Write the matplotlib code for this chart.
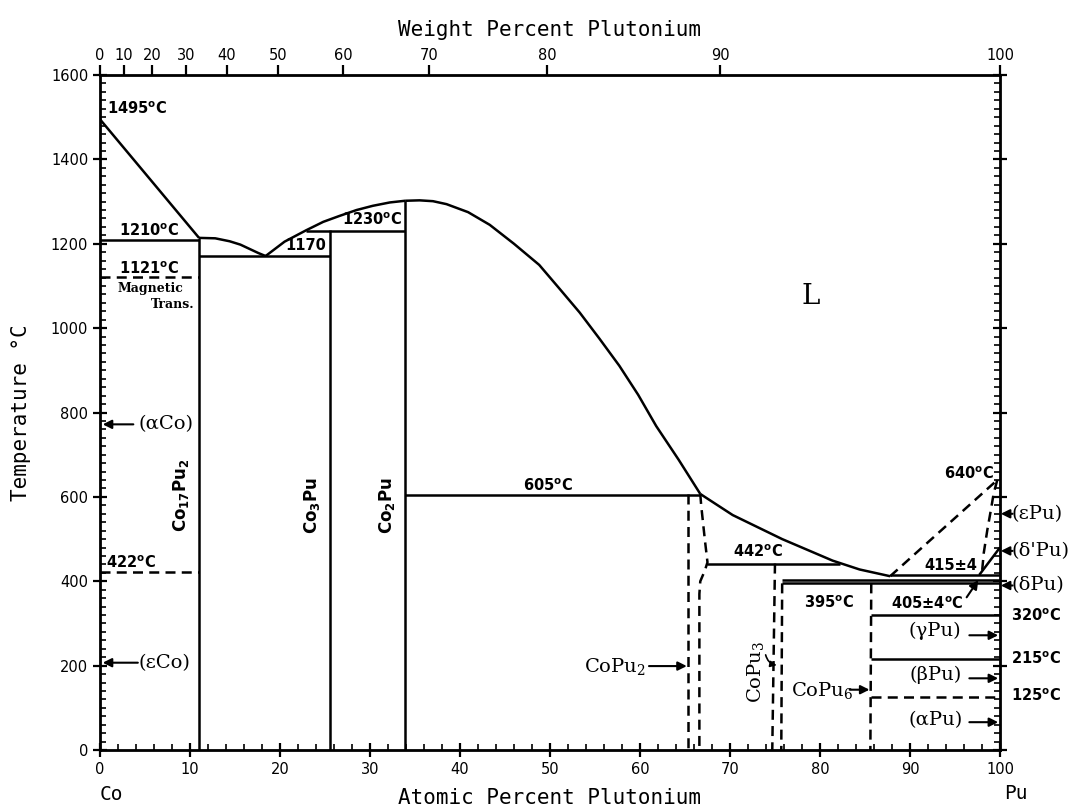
import numpy as np
import matplotlib.pyplot as plt

# Atomic masses used for the weight-percent scale
M_CO, M_PU = 58.93, 239.05

# Liquidus branches (at.% Pu, temperature in C)
liq_co_x = [0.0, 11.0]
liq_co_t = [1495, 1214]
liq_a_x = [11.0, 12.8, 14.4, 15.6, 16.6, 17.6, 18.4]
liq_a_t = [1214, 1213, 1206, 1198, 1188, 1178, 1171]
liq_b_x = [18.4, 20.5, 22.9, 24.8, 26.6, 28.5, 30.3, 32.2, 33.9]
liq_b_t = [1171, 1205, 1232, 1252, 1266, 1280, 1290, 1298, 1302]
liq_c_x = [33.9, 35.5, 37.0, 38.5, 40.9, 43.3, 46.0, 48.8, 51.0, 53.3, 55.5, 57.7, 59.8, 61.8, 64.3, 66.7]
liq_c_t = [1302, 1303, 1301, 1294, 1275, 1245, 1200, 1150, 1095, 1037, 975, 911, 842, 768, 688, 607]
liq_d_x = [66.7, 70.3, 75.8, 81.4, 84.4, 87.8]
liq_d_t = [607, 557, 500, 449, 428, 412]
liq_pu_x = [87.8, 99.7]
liq_pu_t = [412, 640]

# Pu-rich solid boundaries
eps_x = [99.7, 99.3, 99.0, 98.6, 98.2, 98.0]
eps_t = [640, 608, 570, 522, 467, 420]
dlt_x = [97.7, 100.0]
dlt_t = [415, 480]

# Compound lines (at.% Pu)
co17pu2_x, co17pu2_top = 11.0, 1214
co3pu_x, co3pu_top = 25.6, 1232
co2pu_x, co2pu_top = 33.9, 1302
copu2_left_x = [65.3, 65.3]
copu2_left_t = [607, 0]
copu2_right_x = [66.7, 66.8, 67.2, 67.5, 67.2, 66.7, 66.6, 66.6]
copu2_right_t = [607, 580, 500, 445, 425, 400, 370, 0]
copu3_left_x = [75.0, 74.7]
copu3_left_t = [442, 0]
copu3_right_x = [75.8, 75.7]
copu3_right_t = [395, 0]
copu6_x = [85.7, 85.6]
copu6_t = [395, 0]

# Invariant / transformation isotherms: (x_start, x_end, temperature, dashed)
isotherms = [
    (0.0, 11.0, 1210, False),
    (0.0, 11.0, 1121, True),
    (0.0, 11.0, 422, True),
    (11.0, 25.6, 1170, False),
    (22.9, 33.9, 1230, False),
    (33.9, 66.7, 605, False),
    (67.5, 82.2, 442, False),
    (75.8, 100.0, 395, False),
    (75.8, 100.0, 403, False),
    (87.8, 100.0, 415, False),
    (85.7, 100.0, 320, False),
    (85.7, 100.0, 215, False),
    (85.7, 100.0, 125, True),
]

wt_ticks = list(range(0, 101, 10))


def wt_to_at(w):
    w = np.asarray(w, dtype=float)
    return 100 * (w / M_PU) / (w / M_PU + (100 - w) / M_CO)


fig = plt.figure(figsize=(10.78, 8.07), dpi=100)
ax = fig.add_axes([0.0928, 0.0706, 0.8348, 0.8364])
ax.set_xlim(0, 100)
ax.set_ylim(0, 1600)

LW = 1.8
DASH = (0, (4, 2.5))
solid = dict(color='black', lw=LW, solid_capstyle='butt')
dashed = dict(color='black', lw=LW, linestyle=DASH)

for xs, ts in [(liq_co_x, liq_co_t), (liq_a_x, liq_a_t), (liq_b_x, liq_b_t),
               (liq_c_x, liq_c_t), (liq_d_x, liq_d_t), (dlt_x, dlt_t)]:
    ax.plot(xs, ts, **solid)
for xs, ts in [(liq_pu_x, liq_pu_t), (eps_x, eps_t),
               (copu2_left_x, copu2_left_t), (copu2_right_x, copu2_right_t),
               (copu3_left_x, copu3_left_t), (copu3_right_x, copu3_right_t),
               (copu6_x, copu6_t)]:
    ax.plot(xs, ts, **dashed)

for x, top in [(co17pu2_x, co17pu2_top), (co3pu_x, co3pu_top), (co2pu_x, co2pu_top)]:
    ax.plot([x, x], [0, top], **solid)

for x0, x1, t, is_dashed in isotherms:
    ax.plot([x0, x1], [t, t], **(dashed if is_dashed else solid))

# Axes, ticks
for sp in ax.spines.values():
    sp.set_linewidth(2)
ax.set_xticks(range(0, 101, 10))
ax.set_xticks(range(0, 101, 2), minor=True)
ax.set_yticks(range(0, 1601, 200))
ax.set_yticks(range(0, 1601, 20), minor=True)
ax.tick_params(which='major', direction='inout', length=10, width=1.6,
               top=True, right=True, labelsize=10.5)
ax.tick_params(which='minor', direction='in', length=4, width=1.2,
               top=True, right=True)
ax.set_xlabel('Atomic Percent Plutonium', family='DejaVu Sans Mono',
              fontsize=15, labelpad=8)
ax.set_ylabel('Temperature °C', family='DejaVu Sans Mono', fontsize=15,
              labelpad=14)

ax2 = ax.twiny()
ax2.set_xlim(0, 100)
ax2.set_xticks(wt_to_at(wt_ticks))
ax2.set_xticklabels([str(w) for w in wt_ticks])
ax2.tick_params(direction='out', length=7, width=1.6, labelsize=10.5, pad=2)
ax2.set_xlabel('Weight Percent Plutonium', family='DejaVu Sans Mono',
               fontsize=15, labelpad=8)

ax.text(0.0, -0.066, 'Co', transform=ax.transAxes, family='DejaVu Sans Mono',
        fontsize=14, ha='left', va='center')
ax.text(1.005, -0.064, 'Pu', transform=ax.transAxes, family='DejaVu Sans Mono',
        fontsize=14, ha='left', va='center')

# Temperature labels
deg = r'$^\mathregular{o}$C'
tkw = dict(fontsize=10.5, fontweight='bold', family='DejaVu Sans')
ax.text(0.8, 1521, '1495' + deg, ha='left', va='center', **tkw)
ax.text(5.5, 1232, '1210' + deg, ha='center', va='center', **tkw)
ax.text(5.5, 1142, '1121' + deg, ha='center', va='center', **tkw)
ax.text(5.6, 1094, 'Magnetic', ha='center', va='center', fontsize=9,
        fontweight='bold', family='DejaVu Serif')
ax.text(10.5, 1055, 'Trans.', ha='right', va='center', fontsize=9,
        fontweight='bold', family='DejaVu Serif')
ax.text(22.9, 1195, '1170', ha='center', va='center', **tkw)
ax.text(30.2, 1258, '1230' + deg, ha='center', va='center', **tkw)
ax.text(0.7, 445, '422' + deg, ha='left', va='center', **tkw)
ax.text(49.8, 627, '605' + deg, ha='center', va='center', **tkw)
ax.text(73.1, 470, '442' + deg, ha='center', va='center', **tkw)
ax.text(81.0, 350, '395' + deg, ha='center', va='center', **tkw)
ax.text(91.9, 348, '405±4' + deg, ha='center', va='center', **tkw)
ax.text(94.5, 438, '415±4', ha='center', va='center', **tkw)
ax.text(99.3, 655, '640' + deg, ha='right', va='center', **tkw)
ax.text(101.2, 318, '320' + deg, ha='left', va='center', clip_on=False, **tkw)
ax.text(101.2, 216, '215' + deg, ha='left', va='center', clip_on=False, **tkw)
ax.text(101.2, 128, '125' + deg, ha='left', va='center', clip_on=False, **tkw)

# Compound labels
ckw = dict(fontsize=12, fontweight='bold', family='DejaVu Sans',
           rotation=90, ha='center', va='center')
ax.text(9.0, 605, r'Co$_\mathregular{17}$Pu$_\mathregular{2}$', **ckw)
ax.text(23.5, 580, r'Co$_\mathregular{3}$Pu', **ckw)
ax.text(31.9, 580, r'Co$_\mathregular{2}$Pu', **ckw)

skw = dict(fontsize=14, family='DejaVu Serif', ha='center', va='center')
ax.text(79.0, 1075, 'L', fontsize=20, family='DejaVu Serif', ha='center', va='center')
ax.text(72.9, 185, r'CoPu$_\mathregular{3}$', rotation=90, **skw)

arrow = dict(arrowstyle='-|>', color='black', lw=1.5, mutation_scale=13,
             shrinkA=0, shrinkB=0)

# Labels with arrows: (text, text_x, text_t, arrow_x0, arrow_x1, arrow_t)
arrow_labels = [
    ('(αCo)', 7.3, 772, 3.7, 0.3, 772),
    ('(εCo)', 7.2, 205, 4.2, 0.3, 207),
    (r'CoPu$_\mathregular{2}$', 57.2, 197, 61.0, 65.2, 199),
    (r'CoPu$_\mathregular{6}$', 80.2, 140, 83.3, 85.5, 143),
    ('(γPu)', 92.8, 282, 96.6, 99.8, 272),
    ('(βPu)', 92.8, 177, 96.6, 99.8, 170),
    ('(αPu)', 92.8, 70, 96.6, 99.8, 66),
]
for label, tx, tt, x0, x1, at in arrow_labels:
    ax.text(tx, tt, label, **skw)
    ax.annotate('', xy=(x1, at), xytext=(x0, at), arrowprops=arrow)

# Pu allotropes outside the right axis
for label, tt in [('(εPu)', 560), ("(δ'Pu)", 472), ('(δPu)', 390)]:
    ax.text(101.3, tt, label, ha='left', va='center', fontsize=14,
            family='DejaVu Serif', clip_on=False)
    ax.annotate('', xy=(100.1, tt), xytext=(101.4, tt), arrowprops=arrow,
                annotation_clip=False)

ax.annotate('', xy=(97.6, 403), xytext=(96.3, 362), arrowprops=arrow)
ax.annotate('', xy=(75.5, 200), xytext=(73.9, 232),
            arrowprops=dict(arrowstyle='-|>', color='black', lw=1.2,
                            mutation_scale=9, connectionstyle='arc3,rad=0.4'))

fig.savefig('out.png', dpi=100)
